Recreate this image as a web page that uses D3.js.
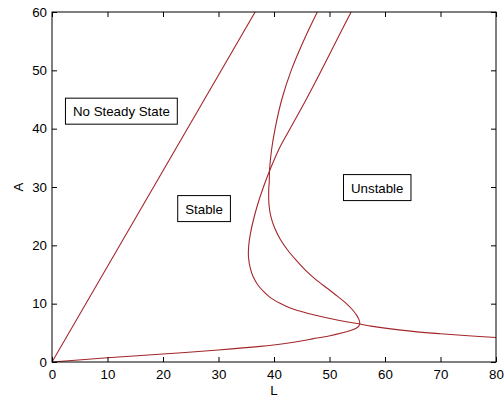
<!DOCTYPE html>
<html>
<head>
<meta charset="utf-8">
<script src="https://cdn.jsdelivr.net/npm/d3@7"></script>
<style>
  body { margin: 0; background: #fff; }
  svg { display: block; font-family: 'Liberation Sans', Arial, sans-serif; }
</style>
</head>
<body>
<div id="chart"></div>
<script>
// x ticks (L) and y ticks (A)
const xTicks = [0, 10, 20, 30, 40, 50, 60, 70, 80];
const yTicks = [0, 10, 20, 30, 40, 50, 60];

// boundary between "No Steady State" and "Stable"
const lineL = [0, 36.6];
const lineA = [0, 60];

// S-shaped fold curve, from the origin round the fold and up
const foldL = [0, 10, 20, 30, 37.5, 42, 45.9, 47.7, 50.1, 52.5, 53.8, 54.8, 55.3, 55.45,
  55.3, 54.9, 54.1, 52.95, 51.4, 49.65, 47.45, 45.6, 43.95, 42.45, 41.15, 40.1, 39.42,
  39.1, 39.05, 39.15, 39.2, 39.55, 40.2, 41.4, 43.1, 45.3, 47.8];
const foldA = [0, 0.72, 1.37, 2.06, 2.68, 3.18, 3.77, 4.1, 4.5, 5.05, 5.4, 5.8, 6.2, 6.7,
  7.3, 8.0, 9.0, 10.1, 11.3, 12.6, 14.2, 15.8, 17.5, 19.2, 21, 23, 25,
  27, 29.5, 31, 33, 36.3, 40, 45, 50, 55, 60];

// second curve, from the top down round the loop and out to the right
const loopL = [53.9, 51.2, 48.55, 45.8, 42.9, 41.1, 39.3, 38.1, 37.05, 36.2, 35.75, 35.45,
  35.4, 35.75, 36.25, 37.1, 38.1, 39.4, 41.0, 42.8, 45.1, 47.5, 50.3, 53.0, 55.5,
  57.5, 60, 65, 70, 75, 80];
const loopA = [60, 55, 50, 45, 40, 36.9, 33, 30, 27, 24, 22, 20,
  18, 16, 14.6, 13.2, 12.1, 11, 10.1, 9.3, 8.6, 8.0, 7.4, 6.9, 6.5,
  6.15, 5.8, 5.25, 4.85, 4.5, 4.2];

// region labels
const labelText = ['No Steady State', 'Stable', 'Unstable'];
const labelL = [12.5, 27.4, 58.6];
const labelA = [43, 26.3, 29.9];

const width = 504;
const height = 397;
const margin = { top: 12, right: 8, bottom: 35, left: 52 };
const curveColor = '#a3262a';

const svg = d3.select('#chart')
  .append('svg')
  .attr('width', width)
  .attr('height', height);

const x = d3.scaleLinear().domain([0, 80]).range([margin.left, width - margin.right]);
const y = d3.scaleLinear().domain([0, 60]).range([height - margin.bottom, margin.top]);

svg.append('clipPath').attr('id', 'plot-clip')
  .append('rect')
  .attr('x', margin.left).attr('y', margin.top)
  .attr('width', width - margin.left - margin.right)
  .attr('height', height - margin.top - margin.bottom);

const zip = (ls, as) => ls.map((l, i) => [l, as[i]]);

const line = d3.line()
  .x(d => x(d[0]))
  .y(d => y(d[1]))
  .curve(d3.curveCatmullRom.alpha(0.5));

const curves = svg.append('g').attr('clip-path', 'url(#plot-clip)');
[zip(lineL, lineA), zip(foldL, foldA), zip(loopL, loopA)].forEach(pts => {
  curves.append('path')
    .datum(pts)
    .attr('d', line)
    .attr('fill', 'none')
    .attr('stroke', curveColor)
    .attr('stroke-width', 1.1);
});

// axes, ticks pointing inward on all four sides
const tickLen = 5;
const styleAxis = g => {
  g.select('.domain').remove();
  g.selectAll('text').attr('font-size', '13.3px').attr('fill', '#000')
    .attr('font-family', "'Liberation Sans', Arial, sans-serif");
  g.selectAll('line').attr('stroke', '#000');
};

svg.append('g')
  .attr('transform', `translate(0,${height - margin.bottom})`)
  .call(d3.axisBottom(x).tickValues(xTicks).tickSize(-tickLen).tickPadding(8))
  .call(styleAxis);

svg.append('g')
  .attr('transform', `translate(0,${margin.top})`)
  .call(d3.axisTop(x).tickValues(xTicks).tickSize(-tickLen).tickFormat(''))
  .call(styleAxis);

svg.append('g')
  .attr('transform', `translate(${margin.left},0)`)
  .call(d3.axisLeft(y).tickValues(yTicks).tickSize(-tickLen).tickPadding(5))
  .call(styleAxis);

svg.append('g')
  .attr('transform', `translate(${width - margin.right},0)`)
  .call(d3.axisRight(y).tickValues(yTicks).tickSize(-tickLen).tickFormat(''))
  .call(styleAxis);

svg.append('rect')
  .attr('x', margin.left).attr('y', margin.top)
  .attr('width', width - margin.left - margin.right)
  .attr('height', height - margin.top - margin.bottom)
  .attr('fill', 'none')
  .attr('stroke', '#000')
  .attr('stroke-width', 1);

// axis titles
svg.append('text')
  .attr('x', (margin.left + width - margin.right) / 2)
  .attr('y', 395)
  .attr('text-anchor', 'middle')
  .attr('font-size', '13.3px')
  .text('L');

svg.append('text')
  .attr('transform', `translate(23,${(margin.top + height - margin.bottom) / 2}) rotate(-90)`)
  .attr('text-anchor', 'middle')
  .attr('font-size', '13.3px')
  .text('A');

// boxed region labels
labelText.forEach((t, i) => {
  const g = svg.append('g');
  const txt = g.append('text')
    .attr('x', x(labelL[i]))
    .attr('y', y(labelA[i]) + 5)
    .attr('text-anchor', 'middle')
    .attr('font-size', '13.3px')
    .text(t);
  const w = txt.node().getComputedTextLength();
  g.insert('rect', 'text')
    .attr('x', x(labelL[i]) - w / 2 - 7.5)
    .attr('y', y(labelA[i]) - 13)
    .attr('width', w + 15)
    .attr('height', 26)
    .attr('fill', '#fff')
    .attr('stroke', '#000')
    .attr('stroke-width', 1);
});
</script>
</body>
</html>
